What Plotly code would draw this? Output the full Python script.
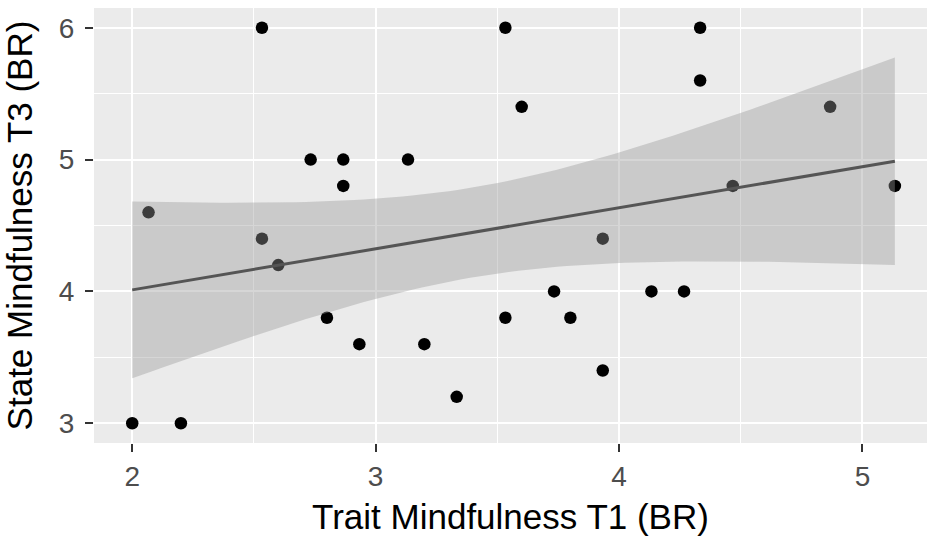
import numpy as np
import plotly.graph_objects as go

# Data
trait_t1 = [2.0, 2.2, 2.067, 2.533, 2.533, 2.6, 2.733, 2.867, 2.867, 2.8,
            2.933, 3.133, 3.2, 3.333, 3.533, 3.533, 3.6, 3.733, 3.8, 3.933,
            3.933, 4.133, 4.267, 4.333, 4.333, 4.467, 4.867, 5.133]
state_t3 = [3.0, 3.0, 4.6, 6.0, 4.4, 4.2, 5.0, 5.0, 4.8, 3.8,
            3.6, 5.0, 3.6, 3.2, 6.0, 3.8, 5.4, 4.0, 3.8, 3.4,
            4.4, 4.0, 4.0, 6.0, 5.6, 4.8, 5.4, 4.8]
x_ticks = [2, 3, 4, 5]
y_ticks = [3, 4, 5, 6]
x_title = "Trait Mindfulness T1 (BR)"
y_title = "State Mindfulness T3 (BR)"

# Linear model fit with 95% confidence band (as geom_smooth(method="lm"))
x = np.array(trait_t1)
y = np.array(state_t3)
n = len(x)
slope, intercept = np.polyfit(x, y, 1)
resid = y - (intercept + slope * x)
s = np.sqrt(np.sum(resid ** 2) / (n - 2))
t_crit = 2.0555  # t(0.975, df=26)
xg = np.linspace(x.min(), x.max(), 80)
yg = intercept + slope * xg
se = s * np.sqrt(1 / n + (xg - x.mean()) ** 2 / np.sum((x - x.mean()) ** 2))
upper = yg + t_crit * se
lower = yg - t_crit * se

fig = go.Figure()
fig.add_trace(go.Scatter(
    x=trait_t1, y=state_t3, mode="markers",
    marker=dict(color="black", size=12.5, line=dict(width=0)),
    showlegend=False, hoverinfo="x+y"))
fig.add_trace(go.Scatter(
    x=np.concatenate([xg, xg[::-1]]), y=np.concatenate([upper, lower[::-1]]),
    mode="lines", fill="toself", fillcolor="rgba(153,153,153,0.4)",
    line=dict(width=0), showlegend=False, hoverinfo="skip"))
fig.add_trace(go.Scatter(
    x=xg, y=yg, mode="lines", line=dict(color="#555555", width=3),
    showlegend=False, hoverinfo="skip"))

axis_common = dict(
    showline=False, zeroline=False, automargin=False,
    showgrid=True, gridcolor="white", gridwidth=2.2,
    ticks="outside", ticklen=8, tickwidth=2, tickcolor="#333333",
    tickfont=dict(family="Liberation Sans, Arial, sans-serif", size=28, color="#4D4D4D"),
)

fig.update_layout(
    width=927, height=538,
    margin=dict(l=94, r=0, t=8, b=95),
    paper_bgcolor="white", plot_bgcolor="#EBEBEB",
    font=dict(family="Liberation Sans, Arial, sans-serif", color="black"),
    xaxis=dict(range=[1.843, 5.265], tickvals=x_ticks, ticktext=[str(v) for v in x_ticks],
               minor=dict(tickvals=[2.5, 3.5, 4.5], showgrid=True, gridcolor="white", gridwidth=1.1, ticks=""),
               title=dict(text=x_title, font=dict(size=35, color="black"), standoff=13),
               ticklabelstandoff=0,
               **axis_common),
    yaxis=dict(range=[2.85, 6.15], tickvals=y_ticks, ticktext=[str(v) for v in y_ticks],
               minor=dict(tickvals=[3.5, 4.5, 5.5], showgrid=True, gridcolor="white", gridwidth=1.1, ticks=""),
               title=dict(text=y_title, font=dict(size=35, color="black"), standoff=18),
               ticklabelstandoff=5,
               **axis_common),
)

fig.write_html("out.html", config={"displayModeBar": False},
               post_script="document.body.style.margin='0px';document.body.style.overflow='hidden';")
